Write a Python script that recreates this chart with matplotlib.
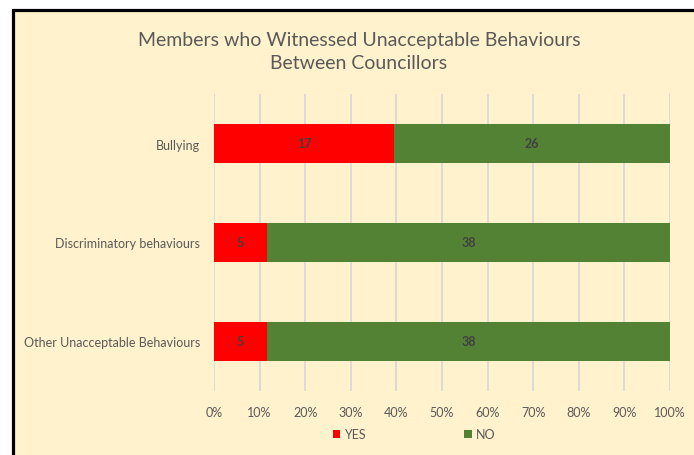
import numpy as np
import matplotlib.pyplot as plt
from matplotlib.patches import Rectangle

# Data
categories = ['Bullying', 'Discriminatory behaviours', 'Other Unacceptable Behaviours']
yes_counts = [17, 5, 5]
no_counts = [26, 38, 38]
series_names = ['YES', 'NO']
tick_values = [0, 10, 20, 30, 40, 50, 60, 70, 80, 90, 100]

plt.rcParams['font.family'] = ['Lato', 'DejaVu Sans']

yes = np.array(yes_counts, dtype=float)
no = np.array(no_counts, dtype=float)
total = yes + no
yes_pct = yes / total * 100
no_pct = no / total * 100

fig = plt.figure(figsize=(6.94, 4.56), dpi=100, facecolor='white')

# pale yellow panel with black frame on left/top
W, H = 694, 456
frame = Rectangle((12.5 / W, -0.2), 1.0, 1.2 - 10.5 / H,
                  transform=fig.transFigure, facecolor='#FFF2CC',
                  edgecolor='black', linewidth=2.3, zorder=-1)
fig.patches.append(frame)

ax = fig.add_axes([214 / W, 1 - 392 / H, 456 / W, 297 / H])
ax.set_facecolor('none')

y = np.arange(len(categories))
ax.barh(y, yes_pct, height=0.4, color='#FF0000', label=series_names[0], zorder=3)
ax.barh(y, no_pct, left=yes_pct, height=0.4, color='#548235', label=series_names[1], zorder=3)

for i in range(len(categories)):
    ax.text(yes_pct[i] / 2, y[i], str(yes_counts[i]), ha='center', va='center',
            fontsize=9, fontweight='bold', color='#404040', zorder=4)
    ax.text(yes_pct[i] + no_pct[i] / 2, y[i], str(no_counts[i]), ha='center', va='center',
            fontsize=9, fontweight='bold', color='#404040', zorder=4)

ax.set_xlim(0, 100)
ax.set_ylim(2.5, -0.5)
ax.set_yticks(y)
ax.set_yticklabels(categories, fontsize=9, color='#595959')
ax.set_xticks(tick_values)
ax.set_xticklabels([f'{v}%' for v in tick_values], fontsize=9, color='#595959')
ax.tick_params(length=0)
ax.tick_params(axis='x', pad=11)
ax.tick_params(axis='y', pad=10)
ax.xaxis.grid(True, color='#D9D9D9', linewidth=1.3, zorder=0)
ax.set_axisbelow(True)
for s in ax.spines.values():
    s.set_visible(False)

fig.text(359 / W, 1 - 52 / H, 'Members who Witnessed Unacceptable Behaviours\nBetween Councillors',
         ha='center', va='center', fontsize=14, color='#595959', linespacing=1.45)

fig.legend(loc='center', bbox_to_anchor=(414 / W, 1 - 435 / H), ncol=2, frameon=False,
           fontsize=9, handlelength=0.6, handleheight=0.6, handletextpad=0.3,
           columnspacing=7.9, labelcolor='#595959')

fig.savefig('out.png', dpi=100, facecolor='white')
